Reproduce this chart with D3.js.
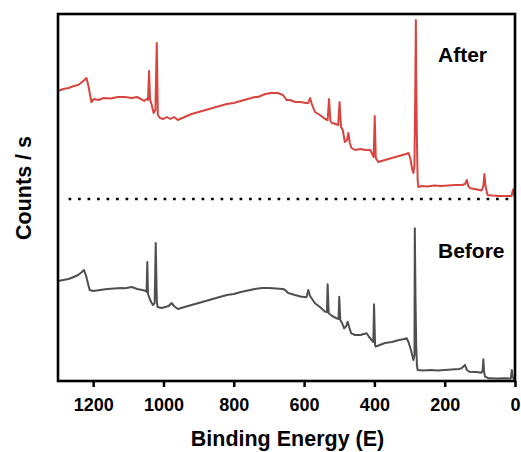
<!DOCTYPE html>
<html>
<head>
<meta charset="utf-8">
<script src="https://cdn.jsdelivr.net/npm/d3@7"></script>
<style>
  body { margin: 0; background: #fff; }
  svg text { font-family: "Liberation Sans", Arial, sans-serif; font-weight: bold; fill: #000; }
</style>
</head>
<body>
<div id="chart"></div>
<script>
// Binding energies (eV) and intensities (arb. counts units)
const afterBE = [1300,1285,1270,1255,1243,1235,1225,1219,1214,1205,1198,1185,1170,1150,1130,1110,1090,1075,1064,1055,1048,1044,1041,1038,1034,1028,1023,1019,1016,1010,1000,990,980,970,959,940,920,900,880,860,840,820,800,780,760,740,731,710,694,675,660,650,640,626,610,595,588,583,578,569,555,540,533,529,525,521,510,503,499,495,490,484,478,474,470,465,455,440,425,412,406,402,399,396,389,380,370,350,330,310,303,298,292,289,286,284,282,281,279,277,275,265,250,230,210,190,170,150,142,137,133,127,115,100,95,90,87,84,78,65,45,25,10,6,4,2,0];
const afterCounts = [290,292,293,295,296,298,301,303,296,279,282,281,283,282.5,284,284,283,284,282,280,282,281,310,281,277,268,271,338,266,263,262,264,262,264,261,264,267,269,271,273,275,277,278,280,282,284,284,287,288,288,286,281,281,279,279,278,278,283,277,269,266,262,261,282,260,258,257,256,279,254,251,239,241,248,238,233,231,232,231,231,227,224,265,223,219,220,221,223,225,227,228,223,211,208,216,281,361,301,241,201,194,195,194.5,195.5,195,195.5,196,196,197,201,195,192.7,192,191,190.5,195,207,195,186,185.5,185,185,185,191,192,185,184];

const beforeBE = [1300,1285,1270,1255,1243,1232,1226,1220,1210,1200,1180,1160,1140,1120,1110,1090,1075,1060,1050,1048,1046,1044,1040,1035,1030,1025,1022,1019,1017,1005,995,985,977,970,959,940,920,900,880,860,840,820,800,780,760,740,720,700,680,660,654,645,626,610,593,588,583,569,555,540,535,533,530,520,507,502,500,497,492,486,480,476,471,466,455,440,430,422,415,408,403,401,398,396,385,370,350,330,315,308,303,296,289,286,285,283,281,279,277,260,240,220,200,180,160,152,142,137,130,110,95,92,90,88,85,75,50,30,12,9,7,2,0];
const beforeCounts = [100,101,102,104,106,109,111,105,91,90,91,92,92.5,93,92.7,94,92,91,90,89,119,87,83,79,76,78,138,81,74,73,74,75,78,75,72,74,76,78,80,82,84,86,87,89,90.5,92,93,93,92.5,92,91,88,86,84.5,83.7,91,85,77.7,74,69.3,69,96.7,67.7,65,62.7,62,84.3,61,58,52.7,55,59.3,53,47.7,46,46,47,47.7,44,41,39,76.7,36,34.3,36,38,39,41,42,42.7,39,31,21,26,152.7,81,36,16,11,10.5,11,10.5,11,11.5,12,12.7,16,11,9.3,9,8.3,11,21.7,9,4.3,2.7,2.5,2.7,2.5,11,4,2,1.7];

const xTicks = [1200, 1000, 800, 600, 400, 200, 0];
const seriesLabels = ["After", "Before"];
const separatorBE = [1270, 0];
const separatorCounts = 182;

const width = 521, height = 452;
const margin = {top: 14, right: 6, bottom: 71, left: 58};

const svg = d3.select("#chart").append("svg")
    .attr("width", width)
    .attr("height", height);

const xScale = d3.scaleLinear()
    .domain([1300, 0])
    .range([margin.left, width - margin.right]);

const yScale = d3.scaleLinear()
    .domain([0, 367])
    .range([height - margin.bottom, margin.top]);

// x axis with outward ticks
const xAxisGroup = svg.append("g")
    .attr("transform", `translate(0, ${height - margin.bottom})`)
    .call(d3.axisBottom(xScale).tickValues(xTicks).tickFormat(d3.format("d"))
        .tickSize(6).tickPadding(11).tickSizeOuter(0));
xAxisGroup.select(".domain").remove();
xAxisGroup.selectAll(".tick line").attr("stroke", "#000").attr("stroke-width", 2.5);
xAxisGroup.selectAll(".tick text")
    .style("font-size", "18px")
    .style("font-family", "'Liberation Sans', Arial, sans-serif")
    .style("font-weight", "bold")
    .attr("fill", "#000");

// separator between the two spectra
svg.append("line")
    .attr("x1", xScale(separatorBE[0]))
    .attr("x2", xScale(separatorBE[1]))
    .attr("y1", yScale(separatorCounts))
    .attr("y2", yScale(separatorCounts))
    .attr("stroke", "#000")
    .attr("stroke-width", 2.6)
    .attr("stroke-dasharray", "2.7 6.8");

const line = d3.line()
    .x(d => xScale(d[0]))
    .y(d => yScale(d[1]));

svg.append("path")
    .datum(afterBE.map((b, i) => [b, afterCounts[i]]))
    .attr("fill", "none")
    .attr("stroke", "#d9443f")
    .attr("stroke-width", 2)
    .attr("stroke-linejoin", "round")
    .attr("d", line);

svg.append("path")
    .datum(beforeBE.map((b, i) => [b, beforeCounts[i]]))
    .attr("fill", "none")
    .attr("stroke", "#4f4f4f")
    .attr("stroke-width", 2)
    .attr("stroke-linejoin", "round")
    .attr("d", line);

// frame
svg.append("rect")
    .attr("x", margin.left)
    .attr("y", margin.top)
    .attr("width", width - margin.right - margin.left)
    .attr("height", height - margin.bottom - margin.top)
    .attr("fill", "none")
    .attr("stroke", "#000")
    .attr("stroke-width", 2.6);

// series labels
svg.append("text").attr("x", 438).attr("y", 62)
    .style("font-size", "21px").text(seriesLabels[0]);
svg.append("text").attr("x", 438).attr("y", 258)
    .style("font-size", "21px").text(seriesLabels[1]);

// axis titles
svg.append("text")
    .attr("x", (margin.left + width - margin.right) / 2 + 1)
    .attr("y", 446)
    .attr("text-anchor", "middle")
    .style("font-size", "21.5px")
    .text("Binding Energy (E)");

svg.append("text")
    .attr("transform", "translate(31, 188) rotate(-90)")
    .attr("text-anchor", "middle")
    .style("font-size", "21.5px")
    .text("Counts / s");
</script>
</body>
</html>
